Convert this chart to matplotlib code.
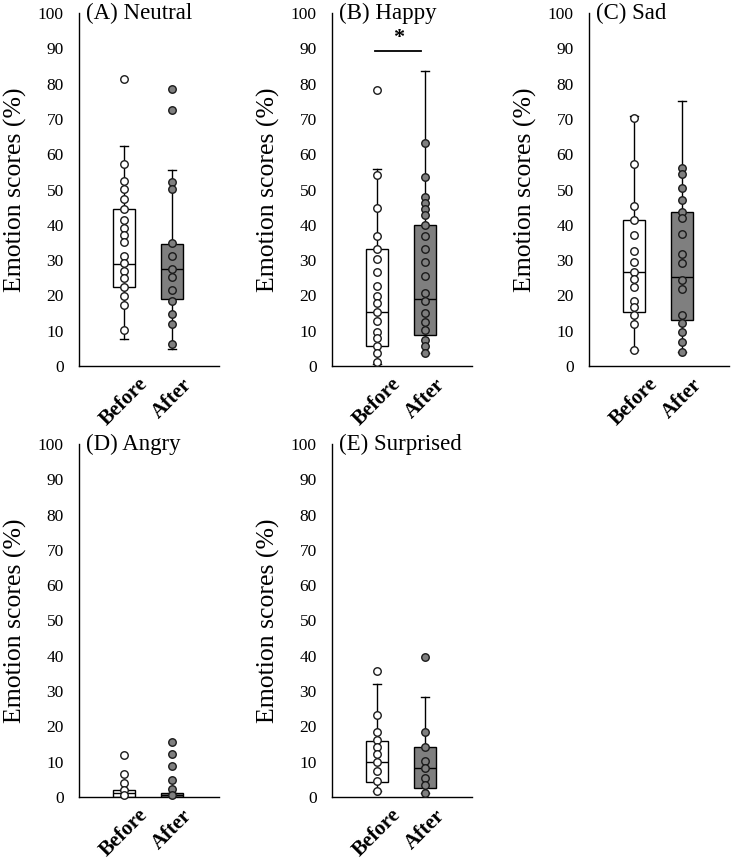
import matplotlib
matplotlib.use("Agg")
import matplotlib.pyplot as plt
import matplotlib.transforms as mtransforms

plt.rcParams['font.family'] = ['Liberation Serif', 'DejaVu Serif']

# ---------------- data ----------------
panels = ["(A) Neutral", "(B) Happy", "(C) Sad", "(D) Angry", "(E) Surprised"]
groups = ["Before", "After"]

neutral_before = [81.3, 57.2, 52.3, 50.1, 47.4, 44.4, 41.4, 39.2, 37.1, 35.0, 31.3, 29.1, 27.0, 25.0, 22.3, 19.9, 17.3, 10.2]
neutral_after = [78.6, 72.4, 52.0, 50.1, 34.8, 31.2, 27.4, 25.3, 21.6, 18.5, 14.7, 12.0, 6.2]
happy_before = [78.1, 54.0, 44.7, 36.9, 33.1, 30.4, 26.7, 22.8, 19.7, 17.8, 15.4, 12.8, 9.7, 7.8, 5.8, 3.6, 1.0]
happy_after = [63.1, 53.5, 47.8, 46.1, 44.5, 42.9, 40.0, 36.9, 33.1, 29.5, 25.5, 20.6, 18.4, 14.9, 12.6, 10.2, 7.4, 5.8, 3.6]
sad_before = [70.2, 57.1, 45.2, 41.3, 37.2, 32.7, 29.5, 26.7, 24.6, 22.3, 18.4, 16.8, 14.5, 11.9, 4.5]
sad_after = [56.0, 54.3, 50.5, 47.0, 43.6, 41.8, 37.3, 31.7, 29.1, 24.3, 21.9, 14.5, 12.1, 9.7, 6.9, 4.1]
angry_before = [11.8, 6.6, 4.0, 1.9, 0.5]
angry_after = [15.6, 12.1, 8.7, 4.7, 2.2, 0.5]
surprised_before = [35.7, 23.1, 18.3, 16.2, 14.3, 12.3, 9.9, 7.4, 4.4, 1.6]
surprised_after = [39.6, 18.3, 14.3, 10.1, 8.2, 5.5, 3.5, 1.1]

# box statistics: whisker low, q1, median, q3, whisker high
neutral_box_before = [7.6, 22.5, 29.0, 44.4, 62.4]
neutral_box_after = [4.9, 18.9, 27.4, 34.7, 55.4]
happy_box_before = [0.6, 5.8, 15.4, 33.1, 55.8]
happy_box_after = [3.6, 8.9, 18.9, 40.0, 83.5]
sad_box_before = [4.5, 15.4, 26.7, 41.3, 70.9]
sad_box_after = [4.1, 12.9, 25.1, 43.6, 75.2]
angry_box_before = [0.0, 0.0, 1.0, 2.0, 2.0]
angry_box_after = [0.0, 0.0, 0.5, 1.0, 1.0]
surprised_box_before = [1.6, 4.2, 9.9, 16.0, 32.1]
surprised_box_after = [1.1, 2.5, 8.2, 14.3, 28.3]

yticks = [0, 10, 20, 30, 40, 50, 60, 70, 80, 90, 100]
ylabel = "Emotion scores (%)"
sig_y = 89.2
sig_label = "*"

points = [(neutral_before, neutral_after), (happy_before, happy_after), (sad_before, sad_after),
          (angry_before, angry_after), (surprised_before, surprised_after)]
boxes = [(neutral_box_before, neutral_box_after), (happy_box_before, happy_box_after),
         (sad_box_before, sad_box_after), (angry_box_before, angry_box_after),
         (surprised_box_before, surprised_box_after)]

# ---------------- layout ----------------
W, H = 733, 865
fig = plt.figure(figsize=(W / 100, H / 100), dpi=100)

axes_px = [(79, 13), (332, 13), (589, 13), (79, 444), (332, 444)]
aw, ah = 140, 353

GREY = '#7f7f7f'
fills = ['white', GREY]

for i, (name, (pb, pa), (bb, ba)) in enumerate(zip(panels, points, boxes)):
    x0, y0 = axes_px[i]
    ax = fig.add_axes([x0 / W, 1 - (y0 + ah) / H, aw / W, ah / H])
    stats = []
    for lab, b in zip(groups, (bb, ba)):
        stats.append(dict(label=lab, whislo=b[0], q1=b[1], med=b[2], q3=b[3], whishi=b[4], fliers=[]))
    bp = ax.bxp(stats, positions=[1, 2], widths=0.46, patch_artist=True, showfliers=False,
                capwidths=0.17,
                boxprops=dict(edgecolor='black', linewidth=1.0),
                medianprops=dict(color='black', linewidth=1.0),
                whiskerprops=dict(color='black', linewidth=1.0),
                capprops=dict(color='black', linewidth=1.0))
    for patch, fc in zip(bp['boxes'], fills):
        patch.set_facecolor(fc)
    for pos, vals, fc in zip([1, 2], (pb, pa), fills):
        ax.plot([pos] * len(vals), vals, linestyle='none', marker='o', markersize=5.4,
                markerfacecolor=fc, markeredgecolor='#1a1a1a', markeredgewidth=1.0,
                clip_on=False, zorder=5)
    ax.set_xlim(0.06, 2.98)
    ax.set_ylim(0, 100)
    ax.set_yticks(yticks)
    ax.set_yticklabels([str(t) for t in yticks], fontsize=12.5)
    ax.tick_params(axis='y', length=0, pad=11)
    ax.set_xticks([1, 2])
    ax.set_xticklabels(groups, rotation=45, fontsize=15, fontweight='bold', ha='center')
    ax.tick_params(axis='x', length=0, pad=6)
    for s in ['top', 'right']:
        ax.spines[s].set_visible(False)
    for s in ['left', 'bottom']:
        ax.spines[s].set_linewidth(1.0)
    ax.set_ylabel(ylabel, fontsize=18.5, labelpad=8)
    trans = mtransforms.blended_transform_factory(ax.transAxes, ax.transData)
    ax.text(0.05, 100, name, transform=trans, fontsize=16.5, va='center', ha='left')
    if i == 1:
        ax.plot([0.96, 1.92], [sig_y, sig_y], color='black', linewidth=1.3)
        ax.text(1.44, sig_y + 1.0, sig_label, fontsize=16, fontweight='bold', ha='center', va='bottom')

fig.savefig('out.png', dpi=100)
